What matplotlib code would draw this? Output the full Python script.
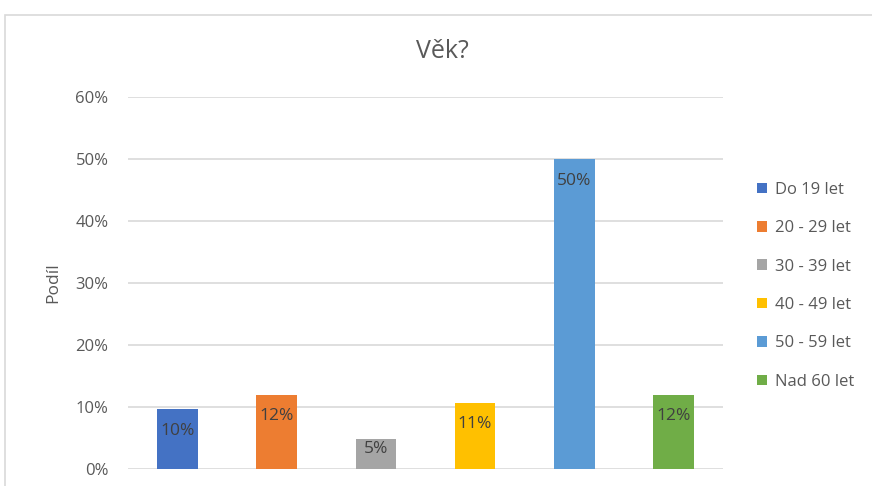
import matplotlib.pyplot as plt
from matplotlib.patches import Patch, Rectangle

plt.rcParams['font.family'] = ['Open Sans', 'DejaVu Sans']

categories = ["Do 19 let", "20 - 29 let", "30 - 39 let", "40 - 49 let", "50 - 59 let", "Nad 60 let"]
values = [0.096, 0.120, 0.048, 0.107, 0.500, 0.120]
labels = ["10%", "12%", "5%", "11%", "50%", "12%"]
colors = ["#4472c4", "#ed7d31", "#a5a5a5", "#ffc000", "#5b9bd5", "#70ad47"]

W, H = 872, 486
fig = plt.figure(figsize=(W / 100, H / 100), dpi=100)

# chart frame (cut off at right/bottom like the screenshot)
fig.patches.append(Rectangle((5 / W, -0.1), 1.2, 1 - 15 / H + 0.1, transform=fig.transFigure,
                             fill=False, edgecolor="#d9d9d9", linewidth=1.2))

ax = fig.add_axes([128 / W, 1 - 469 / H, (723 - 128) / W, (469 - 97) / H])
x = range(len(categories))
bars = ax.bar(x, values, width=0.41, color=colors, zorder=2)

# labels sit inside the top of the bar; short bars keep them inside
for b, lab in zip(bars, labels):
    h = b.get_height()
    off = 0.035 if h > 0.08 else h / 3
    ax.text(b.get_x() + b.get_width() / 2, h - off, lab,
            ha="center", va="center", fontsize=12.5, color="#404040", zorder=3)

ax.set_xlim(-0.5, 5.5)
ax.set_ylim(0, 0.6)
ax.set_yticks([0, 0.1, 0.2, 0.3, 0.4, 0.5, 0.6])
ax.set_yticklabels(["0%", "10%", "20%", "30%", "40%", "50%", "60%"])
ax.set_xticks([])
ax.tick_params(axis="y", length=0, pad=14, labelsize=12, labelcolor="#595959")
ax.grid(axis="y", color="#d9d9d9", linewidth=1.2, zorder=0)
for s in ax.spines.values():
    s.set_visible(False)

ax.set_ylabel("Podíl", fontsize=12.5, color="#595959", labelpad=10)

fig.text(442 / W, 1 - 51 / H, "Věk?", ha="center", va="center", fontsize=18, color="#595959")

handles = [Patch(facecolor=c) for c in colors]
fig.legend(handles, categories, loc="upper left", bbox_to_anchor=(757 / W, 1 - 182 / H),
           frameon=False, fontsize=12, labelcolor="#595959",
           handlelength=0.6, handleheight=0.6, handletextpad=0.45, labelspacing=1.34,
           borderaxespad=0, borderpad=0)

fig.savefig("out.png", dpi=100)
